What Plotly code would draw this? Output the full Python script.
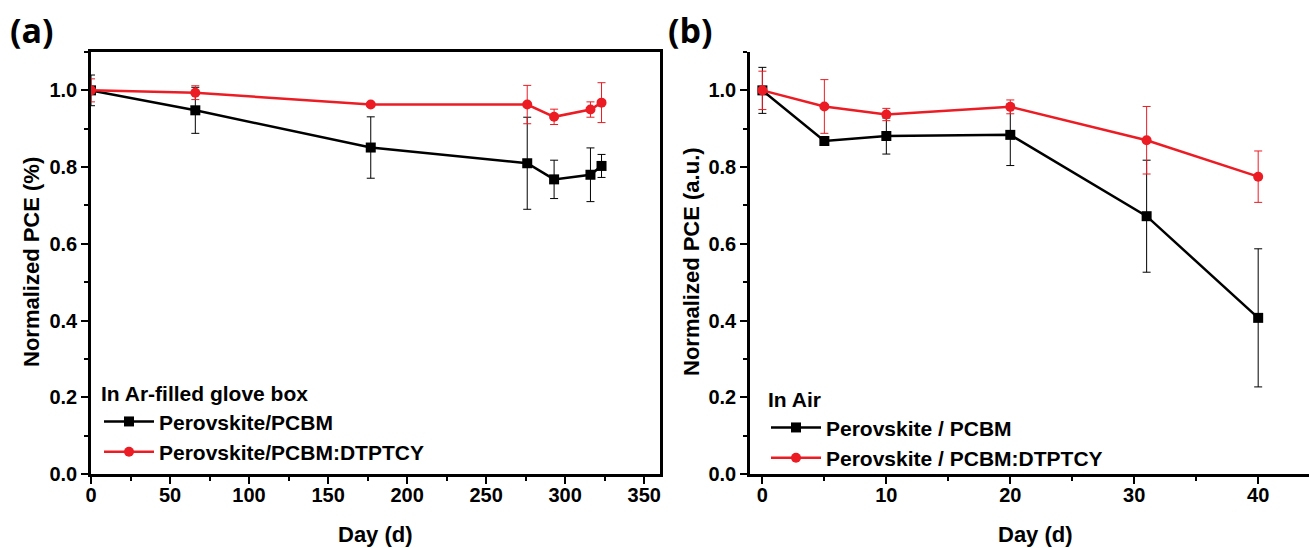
import plotly.graph_objects as go

# Panel (a): in Ar-filled glove box
days_a = [0, 66, 177, 276, 293, 316, 323]
pcbm_a = [1.0, 0.948, 0.851, 0.810, 0.768, 0.780, 0.803]
pcbm_a_err = [0.04, 0.06, 0.08, 0.12, 0.05, 0.07, 0.03]
dtptcy_a = [1.0, 0.994, 0.963, 0.963, 0.931, 0.950, 0.968]
dtptcy_a_err = [0.03, 0.018, 0.005, 0.05, 0.02, 0.02, 0.052]

# Panel (b): in air
days_b = [0, 5, 10, 20, 31, 40]
pcbm_b = [1.0, 0.868, 0.881, 0.884, 0.672, 0.407]
pcbm_b_err = [0.06, 0.01, 0.047, 0.08, 0.146, 0.18]
dtptcy_b = [1.0, 0.958, 0.937, 0.957, 0.870, 0.775]
dtptcy_b_err = [0.05, 0.07, 0.016, 0.018, 0.088, 0.067]

legend_a_title = "In Ar-filled glove box"
legend_b_title = "In Air"
names_a = ["Perovskite/PCBM", "Perovskite/PCBM:DTPTCY"]
names_b = ["Perovskite / PCBM", "Perovskite / PCBM:DTPTCY"]

BLACK = "#000000"
RED = "#ec1c24"
SANS = "Liberation Sans, Arial, sans-serif"
LABEL = "Open Sans, Lato, sans-serif"

fig = go.Figure()

def add(x, y, e, name, color, symbol, xa, ya, legend):
    fig.add_trace(go.Scatter(
        x=x, y=y, name=name, mode="lines+markers",
        line=dict(color=color, width=2.5),
        marker=dict(color=color, symbol=symbol, size=10),
        error_y=dict(type="data", array=e, visible=True, color=color,
                     thickness=1, width=4),
        xaxis=xa, yaxis=ya, legend=legend))

add(days_a, pcbm_a, pcbm_a_err, names_a[0], BLACK, "square", "x", "y", "legend")
add(days_a, dtptcy_a, dtptcy_a_err, names_a[1], RED, "circle", "x", "y", "legend")
add(days_b, pcbm_b, pcbm_b_err, names_b[0], BLACK, "square", "x2", "y2", "legend2")
add(days_b, dtptcy_b, dtptcy_b_err, names_b[1], RED, "circle", "x2", "y2", "legend2")

W, H = 1309, 548
def px(v):
    return v / W
def py(v):
    return 1 - v / H

tickfont = dict(family=SANS, size=20, color="black", weight="bold")
common_axis = dict(showline=True, linecolor="black", linewidth=2.5,
                   ticks="outside", ticklen=7, tickwidth=2, tickcolor="black",
                   showgrid=False, zeroline=False, tickfont=tickfont,
                   automargin=False)

ydom = [py(474), py(52)]
legfont = dict(family=SANS, size=21, color="black", weight="bold")
fig.update_layout(
    width=W, height=H, autosize=False,
    margin=dict(l=0, r=0, t=0, b=0, pad=0),
    paper_bgcolor="white", plot_bgcolor="white",
    xaxis=dict(domain=[px(91), px(660)], range=[0, 360], dtick=50, anchor="y",
               mirror=True, ticklabelstandoff=-6,
               minor=dict(ticks="outside", ticklen=4, dtick=25, tickwidth=2, tickcolor="black"),
               **common_axis),
    yaxis=dict(domain=ydom, range=[0, 1.1], dtick=0.2, tickformat=".1f", anchor="x",
               mirror=True,
               minor=dict(ticks="outside", ticklen=4, dtick=0.1, tickwidth=2, tickcolor="black"),
               **common_axis),
    xaxis2=dict(domain=[px(750), 1.0], range=[-1, 44.1], dtick=10, anchor="y2",
                mirror=False, ticklabelstandoff=-6,
                minor=dict(ticks="outside", ticklen=4, dtick=5, tickwidth=2, tickcolor="black"),
                **common_axis),
    yaxis2=dict(domain=ydom, range=[0, 1.1], dtick=0.2, tickformat=".1f", anchor="x2",
                mirror=False,
                minor=dict(ticks="outside", ticklen=4, dtick=0.1, tickwidth=2, tickcolor="black"),
                **common_axis),
    legend=dict(x=px(99), y=py(374), xanchor="left", yanchor="top",
                bgcolor="rgba(0,0,0,0)",
                title=dict(text=legend_a_title, font=legfont),
                font=legfont, itemwidth=50, tracegroupgap=0),
    legend2=dict(x=px(766), y=py(380), xanchor="left", yanchor="top",
                 bgcolor="rgba(0,0,0,0)",
                 title=dict(text=legend_b_title, font=legfont),
                 font=legfont, itemwidth=50, tracegroupgap=0),
    showlegend=True,
)

annos = [
    dict(text="(a)", x=px(8), y=py(30), xanchor="left", font=dict(family=LABEL, size=34, weight="bold")),
    dict(text="(b)", x=px(666), y=py(30), xanchor="left", font=dict(family=LABEL, size=34, weight="bold")),
    dict(text="Normalized PCE (%)", x=px(31), y=py(262), textangle=-90, font=dict(family=SANS, size=22, weight="bold")),
    dict(text="Normalized PCE (a.u.)", x=px(691), y=py(262), textangle=-90, font=dict(family=SANS, size=22, weight="bold")),
    dict(text="Day (d)", x=px(375), y=py(534), font=dict(family=SANS, size=22, weight="bold")),
    dict(text="Day (d)", x=px(1035), y=py(534), font=dict(family=SANS, size=22, weight="bold")),
]
for a in annos:
    a.update(xref="paper", yref="paper", showarrow=False)
    a.setdefault("xanchor", "center")
    a["yanchor"] = "middle"
    a["font"]["color"] = "black"
    fig.add_annotation(**a)

fig.write_html("out.html", config={"displayModeBar": False},
               post_script="document.body.style.margin='0';document.body.style.overflow='hidden';")
